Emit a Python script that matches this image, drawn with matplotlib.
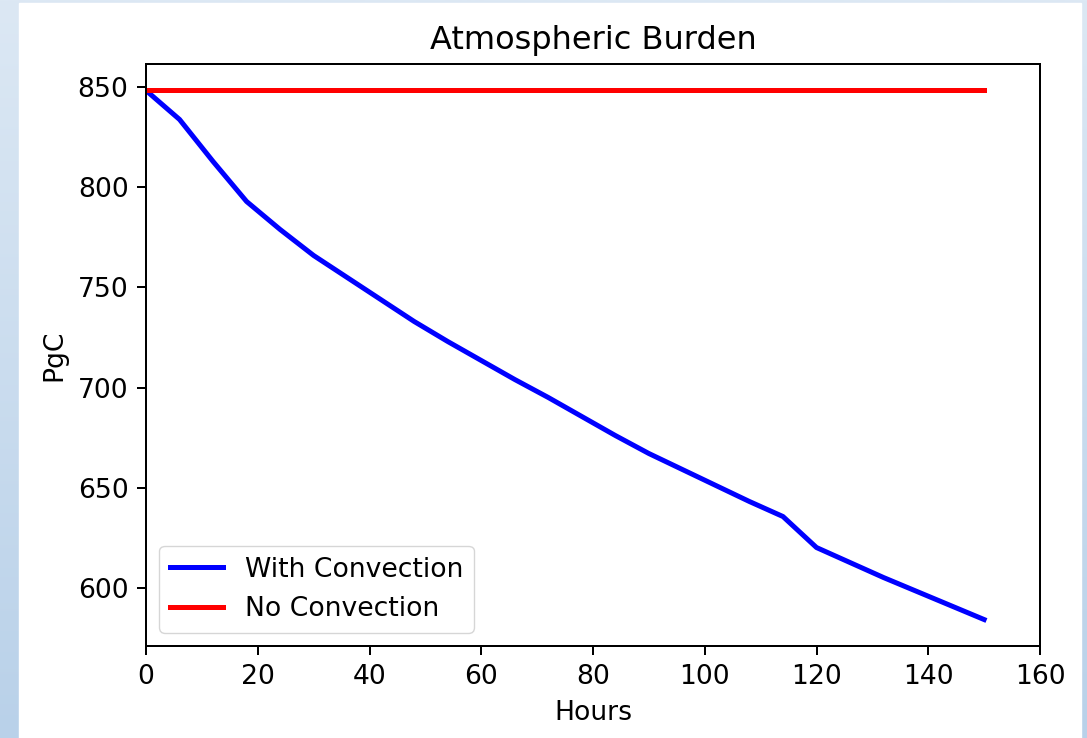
import numpy as np
import matplotlib
matplotlib.use("Agg")
from matplotlib import pyplot as plt
from matplotlib.colors import LinearSegmentedColormap
from matplotlib.patches import Rectangle

# Hours of simulation and atmospheric carbon burden (PgC)
hours = [0, 6, 12, 18, 24, 30, 36, 42, 48, 54, 60, 66, 72, 78, 84, 90,
         96, 102, 108, 114, 120, 126, 132, 138, 144, 150]
with_convection = [848.5, 834, 813, 793, 779, 766, 755, 744, 733, 723,
                   713.5, 704, 695, 685.5, 676, 667, 659, 651, 643, 635.5,
                   620, 612.5, 605, 598, 591, 584]
no_convection = [848.5] * len(hours)

# screenshot was taken at ~2.5x of a default notebook figure
s = 1.8
fs = 1.92
plt.rcParams.update({
    "font.size": 10 * fs,
    "axes.linewidth": 0.8 * s,
    "xtick.major.size": 3.5 * s,
    "ytick.major.size": 3.5 * s,
    "xtick.major.width": 0.8 * s,
    "ytick.major.width": 0.8 * s,
    "xtick.major.pad": 3.5 * s,
    "ytick.major.pad": 3.5 * s,
    "axes.titlepad": 6 * s,
    "axes.labelpad": 4 * s,
})

fig = plt.figure(figsize=(10.87, 7.38), dpi=100)

# bluish page background behind the white figure
bg = fig.add_axes([0, 0, 1, 1], zorder=-2)
cmap = LinearSegmentedColormap.from_list("page", ["#dce8f4", "#b9d1e9"])
bg.imshow(np.linspace(0, 1, 256).reshape(-1, 1), cmap=cmap, aspect="auto",
          extent=[0, 1, 0, 1])
bg.add_patch(Rectangle((19 / 1087, 0), (1081 - 19) / 1087, 1 - 3 / 738,
                       color="white"))
bg.set_xlim(0, 1)
bg.set_ylim(0, 1)
bg.axis("off")

ax = fig.add_axes([146 / 1087, 1 - 646 / 738, (1040 - 146) / 1087,
                   (646 - 64) / 738])
ax.plot(hours, with_convection, color="blue", linewidth=2 * s,
        label="With Convection")
ax.plot(hours, no_convection, color="red", linewidth=2 * s,
        label="No Convection")
ax.set_xlim(0, 160)
ax.set_title("Atmospheric Burden")
ax.set_xlabel("Hours")
ax.set_ylabel("PgC")
ax.legend(loc="lower left")

plt.savefig("out.png", dpi=100)
plt.close()
